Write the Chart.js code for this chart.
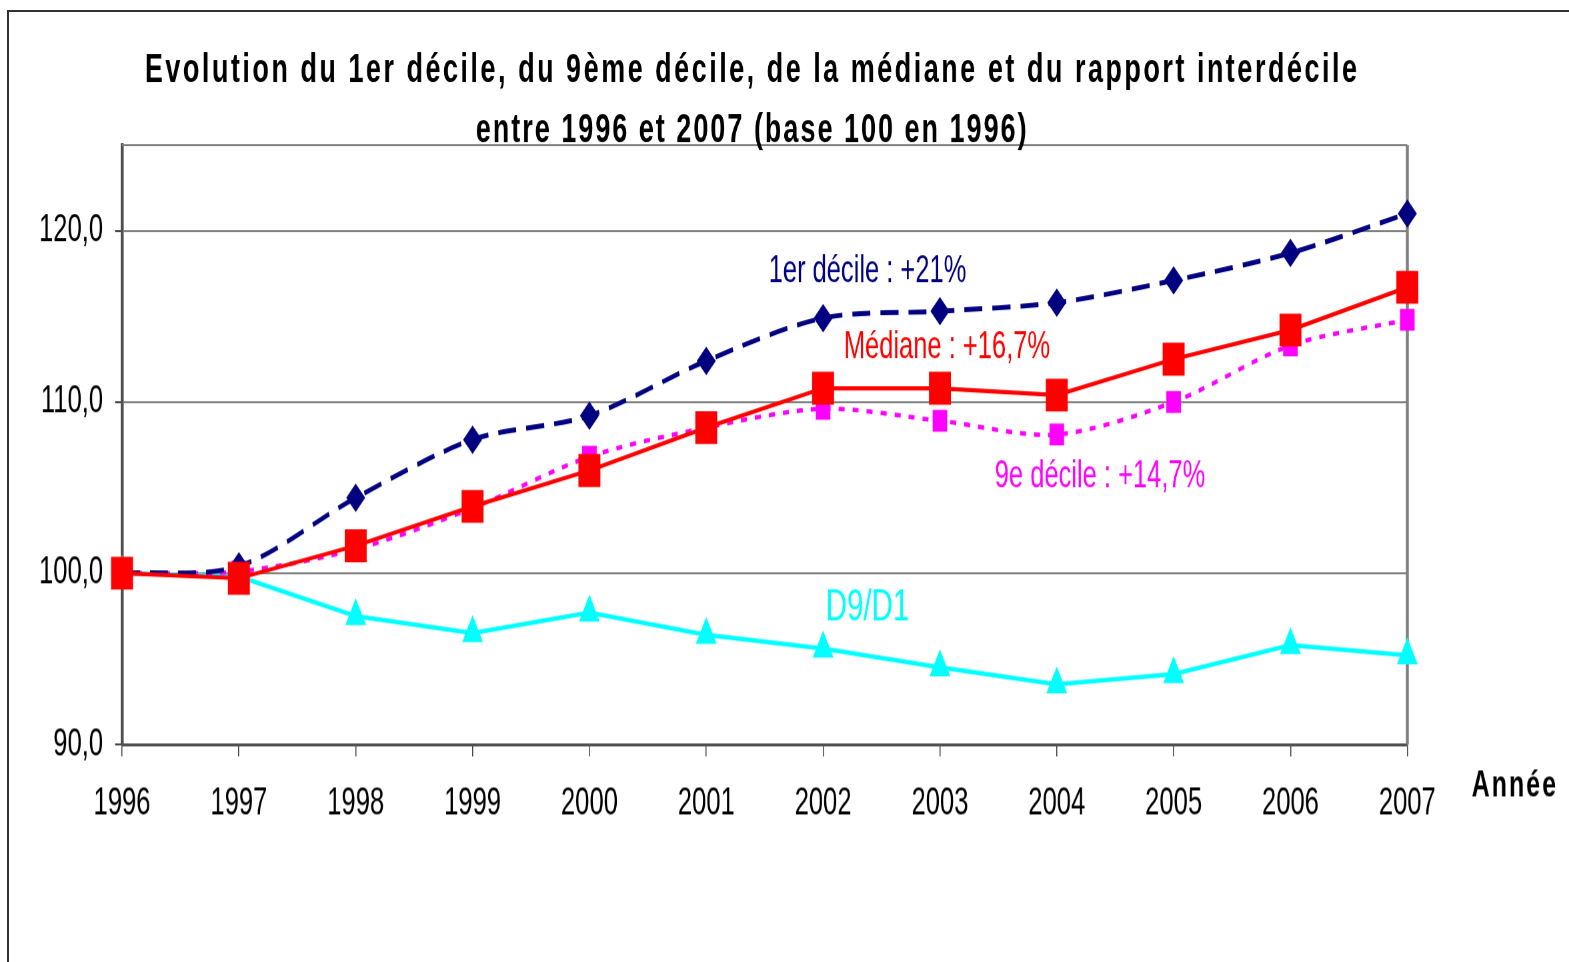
<!DOCTYPE html>
<html>
<head>
<meta charset="utf-8">
<script src="https://cdn.jsdelivr.net/npm/chart.js@4/dist/chart.umd.min.js"></script>
<style>
	html, body { margin: 0; padding: 0; background: #fff; overflow: hidden; }
	#frame { position: absolute; left: 7px; top: 10px; width: 2000px; height: 2000px; border: 2px solid #333; }
	/* the reference is stretched vertically, so the chart is drawn flat and scaled */
	#wrap { position: absolute; left: 0; top: 0; width: 1569px; height: 641px; transform: scaleY(1.5); transform-origin: 0 0; }
</style>
</head>
<body>
<div id="frame"></div>
<div id="wrap"><canvas id="chart"></canvas></div>
<script>
const years = ["1996", "1997", "1998", "1999", "2000", "2001", "2002", "2003", "2004", "2005", "2006", "2007"];

const premierDecile = [100.0, 100.4, 104.4, 107.8, 109.2, 112.4, 114.9, 115.3, 115.8, 117.1, 118.7, 121.0];
const mediane = [100.0, 99.7, 101.6, 103.9, 106.0, 108.5, 110.8, 110.8, 110.4, 112.5, 114.2, 116.7];
const neuviemeDecile = [100.0, 100.1, 101.4, 103.8, 106.8, 108.5, 109.6, 108.9, 108.1, 110.0, 113.3, 114.8];
const rapportD9D1 = [100.0, 99.8, 97.5, 96.5, 97.7, 96.4, 95.6, 94.5, 93.5, 94.1, 95.8, 95.2];

const yTicks = [90, 100, 110, 120];

const titleLines = [
	"Evolution du 1er décile, du 9ème décile, de la médiane et du rapport interdécile",
	"entre 1996 et 2007 (base 100 en 1996)",
];

// text labels placed in data units (x = year index, y = index value)
const notes = [
	{ text: "1er décile : +21%", x: 6.38, y: 117.6, color: "#000080", size: 25.5 },
	{ text: "Médiane : +16,7%", x: 7.06, y: 113.2, color: "#ff0000", size: 25.5 },
	{ text: "9e décile : +14,7%", x: 8.37, y: 105.65, color: "#ff00ff", size: 25.5 },
	{ text: "D9/D1", x: 6.38, y: 97.95, color: "#00ffff", size: 29.5 },
];

const FONT = "'Liberation Sans', Arial, sans-serif";

const framePlugin = {
	id: "frame",
	beforeDatasetsDraw(chart) {
		const { ctx, chartArea } = chart;
		ctx.save();
		ctx.strokeStyle = "#808080";
		ctx.lineWidth = 1.3;
		ctx.beginPath();
		ctx.moveTo(chartArea.left, chartArea.top);
		ctx.lineTo(chartArea.right, chartArea.top);
		ctx.stroke();
		ctx.lineWidth = 3;
		ctx.beginPath();
		ctx.moveTo(chartArea.right, chartArea.top);
		ctx.lineTo(chartArea.right, chartArea.bottom);
		ctx.stroke();
		ctx.restore();
	},
};

const textPlugin = {
	id: "texts",
	afterDraw(chart) {
		const { ctx } = chart;
		const x = chart.scales.x;
		const y = chart.scales.y;
		ctx.save();
		ctx.textAlign = "center";
		ctx.textBaseline = "middle";

		ctx.fillStyle = "#000";
		ctx.font = "bold 27px " + FONT;
		ctx.letterSpacing = "2.5px";
		ctx.fillText(titleLines[0], 752, 47);
		ctx.letterSpacing = "2px";
		ctx.fillText(titleLines[1], 752, 87);

		ctx.font = "bold 25px " + FONT;
		ctx.fillText("Année", x.getPixelForValue(11.92), y.getPixelForValue(87.55));

		ctx.letterSpacing = "0px";
		notes.forEach((n) => {
			ctx.font = n.size + "px " + FONT;
			ctx.fillStyle = n.color;
			ctx.fillText(n.text, x.getPixelForValue(n.x), y.getPixelForValue(n.y));
		});
		ctx.restore();
	},
};

const ctx = document.getElementById("chart").getContext("2d");

new Chart(ctx, {
	type: "line",
	data: {
		labels: years,
		datasets: [
			{
				label: "1er décile",
				data: premierDecile,
				order: 1,
				borderColor: "#000080",
				backgroundColor: "#000080",
				borderWidth: 3.3,
				borderDash: [18, 10],
				tension: 0.3,
				pointStyle: "rectRot",
				pointRadius: 9.5,
				pointBorderWidth: 0,
				clip: false,
			},
			{
				label: "Médiane",
				data: mediane,
				order: 0,
				borderColor: "#ff0000",
				backgroundColor: "#ff0000",
				borderWidth: 2.8,
				tension: 0,
				pointStyle: "rect",
				pointRadius: 15.5,
				pointBorderWidth: 0,
				clip: false,
			},
			{
				label: "9e décile",
				data: neuviemeDecile,
				order: 2,
				borderColor: "#ff00ff",
				backgroundColor: "#ff00ff",
				borderWidth: 3,
				borderDash: [6, 8],
				tension: 0.3,
				pointStyle: "rect",
				pointRadius: 10.3,
				pointBorderWidth: 0,
				clip: false,
			},
			{
				label: "D9/D1",
				data: rapportD9D1,
				order: 3,
				borderColor: "#00ffff",
				backgroundColor: "#00ffff",
				borderWidth: 3,
				tension: 0,
				pointStyle: "triangle",
				pointRadius: 12,
				pointBorderWidth: 0,
				clip: false,
			},
		],
	},
	options: {
		responsive: true,
		maintainAspectRatio: false,
		devicePixelRatio: 1.5,
		animation: false,
		layout: { padding: { left: 0, right: 162, top: 96.7, bottom: 0 } },
		plugins: {
			legend: { display: false },
			tooltip: { enabled: false },
		},
		scales: {
			x: {
				offset: false,
				grid: { drawOnChartArea: false, tickLength: 8, color: "#404040", lineWidth: 1 },
				border: { color: "#505050", width: 2 },
				ticks: {
					color: "#000",
					font: { family: FONT, size: 25.6 },
					padding: 16,
					maxRotation: 0,
					autoSkip: false,
				},
				afterFit: (scale) => {
					scale.height = 145;
				},
			},
			y: {
				min: 90,
				max: 125,
				afterBuildTicks: (scale) => {
					scale.ticks = yTicks.map((v) => ({ value: v }));
				},
				ticks: {
					color: "#000",
					font: { family: FONT, size: 25.6 },
					padding: 12,
					callback: (v) => v.toFixed(1).replace(".", ","),
				},
				grid: { color: "#808080", lineWidth: 1.3, tickLength: 7, tickColor: "#404040" },
				border: { color: "#505050", width: 3 },
				afterFit: (scale) => {
					scale.width = 122;
				},
			},
		},
	},
	plugins: [framePlugin, textPlugin],
});
</script>
</body>
</html>
